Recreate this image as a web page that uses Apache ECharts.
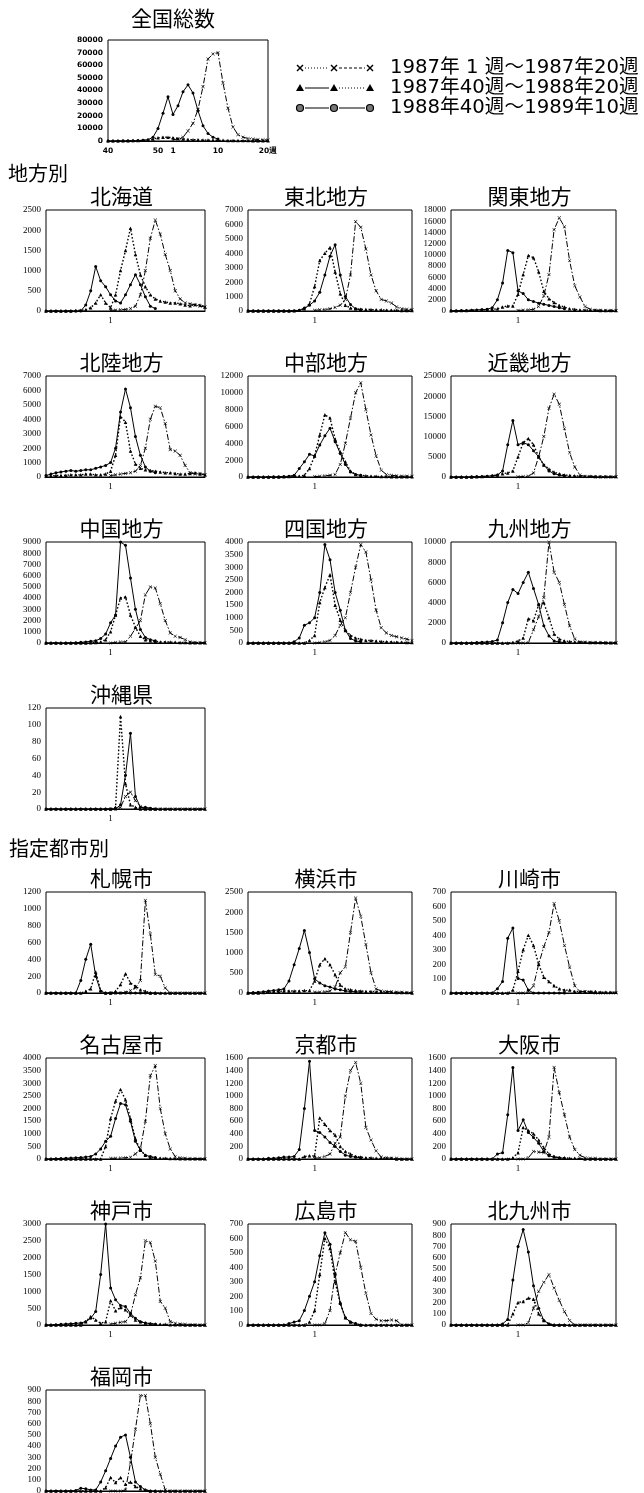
<!DOCTYPE html>
<html>
<head>
<meta charset="utf-8">
<script src="https://cdn.jsdelivr.net/npm/echarts@6/dist/echarts.min.js"></script>
<style>
  html, body { margin: 0; padding: 0; background: #fff; }
  #chart { width: 644px; height: 1493px; }
</style>
</head>
<body>
<div id="chart"></div>
<script>
// Weekly influenza case counts, three seasons per panel.
// x categories: week 40 .. 52, then week 1 .. 20
const weeks = [40,41,42,43,44,45,46,47,48,49,50,51,52,1,2,3,4,5,6,7,8,9,10,11,12,13,14,15,16,17,18,19,20];
const seasonNames = ['1987年 1 週〜1987年20週', '1987年40週〜1988年20週', '1988年40週〜1989年10週'];

// *_1987 : 1987 week 1-20 (20 values)
// *_8788 : 1987 week 40 - 1988 week 20 (33 values)
// *_8889 : 1988 week 40 - 1989 week 10 (23 values)
const nat_1987 = [1000,1500,3000,8000,14000,25000,43000,65000,69000,70000,46000,26000,11000,5000,3000,2000,1500,1200,1000,800];
const nat_8788 = [100,100,150,200,250,300,400,500,800,1500,2500,3000,3000,2500,2000,1500,1200,1000,900,800,700,600,500,500,400,400,300,300,300,200,200,200,200];
const nat_8889 = [0,0,0,100,100,200,300,500,1000,3000,10000,22000,35000,21000,28000,39000,44500,38000,24000,12000,6000,3000,1500];

const hok_1987 = [20,20,30,40,60,120,400,1000,1800,2250,1900,1400,1000,500,300,200,180,150,120,100];
const hok_8788 = [0,0,0,0,0,0,10,20,30,80,200,400,200,80,400,1000,1500,2050,1400,900,600,400,300,250,220,200,200,180,150,130,160,150,100];
const hok_8889 = [0,0,0,0,0,0,0,0,150,500,1100,750,600,400,250,200,400,650,900,650,350,120,60];

const toh_1987 = [50,80,100,150,250,400,800,2500,6200,5800,4300,2500,1400,800,700,550,280,150,120,100];
const toh_8788 = [0,0,0,0,0,0,0,0,0,20,50,150,500,1700,3500,4000,4400,2700,1200,400,200,150,120,100,100,80,80,60,60,50,40,40,30];
const toh_8889 = [20,20,20,20,20,20,20,20,20,20,50,200,400,700,1300,2500,3800,4600,2500,1000,450,150,80];

const kan_1987 = [100,150,200,300,800,2700,6500,14500,16600,15000,9000,4500,2500,800,300,150,120,100,100,80];
const kan_8788 = [50,50,80,100,120,150,200,250,300,400,700,900,900,3000,6500,9900,9500,7000,3500,2200,1500,1000,700,400,300,200,200,150,150,100,100,100,100];
const kan_8889 = [50,60,80,100,150,200,250,300,600,2000,5000,10800,10400,3600,3100,2000,1700,1400,1200,1000,800,600,400];

const hkr_1987 = [100,150,200,250,300,400,800,2000,4000,4900,4800,3700,1900,1800,1500,800,300,200,250,150];
const hkr_8788 = [50,80,100,100,120,150,150,150,200,200,150,150,200,400,1500,4200,3800,1800,900,600,500,450,400,350,300,300,250,200,200,250,300,200,150];
const hkr_8889 = [100,200,300,350,400,450,400,450,500,500,600,700,800,1000,2000,4500,6100,4800,2800,1500,700,400,300];

const chb_1987 = [50,80,150,200,300,1500,4000,7000,10000,11200,8000,5000,2500,800,300,200,150,100,100,80];
const chb_8788 = [0,0,0,0,0,0,10,20,50,80,100,200,1000,2500,5000,7400,7000,4500,3000,1800,700,300,200,150,100,80,60,50,40,30,30,20,20];
const chb_8889 = [0,0,0,0,10,20,30,50,100,200,1000,1800,2700,2500,3800,4900,5800,4200,2800,1500,600,300,200];

const kin_1987 = [50,100,200,1000,5000,10000,17000,20500,18000,12000,6000,2500,500,100,100,80,60,50,50,40];
const kin_8788 = [0,0,0,0,0,50,100,200,300,500,800,1000,1500,5000,8500,9500,8000,5000,3000,2000,1200,800,500,400,300,250,200,200,150,100,100,100,100];
const kin_8889 = [0,0,0,0,50,100,150,200,300,500,1500,8000,14000,8000,8500,8000,6500,5000,3000,1500,800,500,300];

const chg_1987 = [0,50,80,100,600,1300,2000,4300,5000,4900,3500,2000,900,600,500,300,100,50,50,30];
const chg_8788 = [0,0,0,0,0,0,0,0,0,20,50,100,300,1000,2500,4000,4100,2500,1400,600,300,200,150,100,100,80,60,50,40,30,30,20,20];
const chg_8889 = [0,0,0,0,0,0,30,60,100,150,200,400,800,1800,2500,9000,8700,5800,3000,1200,500,300,200];

const shk_1987 = [0,20,50,100,300,700,1000,2000,3000,3900,3600,2500,1300,600,400,300,250,200,150,100];
const shk_8788 = [0,0,0,0,0,0,0,0,0,0,0,0,100,300,1600,2200,2700,1500,900,500,300,200,150,100,100,80,60,50,40,30,30,20,20];
const shk_8889 = [0,0,0,0,0,0,0,0,0,50,200,700,800,1000,2000,3900,3300,2000,1300,500,180,80,50];

const kyu_1987 = [0,0,50,1300,2600,4500,10000,7000,6000,3800,1700,400,100,80,60,50,50,40,30,20];
const kyu_8788 = [0,0,0,0,0,0,0,0,0,0,0,0,50,200,500,2400,2200,3800,4000,2500,900,400,200,150,100,100,80,60,50,40,30,20,20];
const kyu_8889 = [0,0,0,0,0,50,80,100,150,300,2000,4000,5300,4900,6000,7000,5400,3800,1700,700,200,100,50];

const oki_1987 = [0,0,2,15,20,10,3,0,0,0,0,0,0,0,0,0,0,0,0,0];
const oki_8788 = [0,0,0,0,0,0,0,0,0,0,0,0,0,0,2,110,30,5,2,0,0,0,0,0,0,0,0,0,0,0,0,0,0];
const oki_8889 = [0,0,0,0,0,0,0,0,0,0,0,0,0,0,0,5,40,90,15,2,2,1,0];

const sap_1987 = [0,0,0,10,30,60,150,1100,700,220,200,60,0,0,0,0,0,0,0,0];
const sap_8788 = [0,0,0,0,0,0,0,0,20,50,250,30,0,0,20,100,230,120,80,40,20,0,0,0,0,0,0,0,0,0,0,0,0];
const sap_8889 = [0,0,0,0,0,0,0,150,400,580,200,20,0,0,0,0,0,0,0,0,0,0,0];

const yok_1987 = [20,20,30,50,150,500,650,1500,2350,1900,1200,500,100,50,40,30,20,20,10,10];
const yok_8788 = [0,0,0,10,20,30,40,50,50,50,50,60,60,300,700,850,700,450,200,100,80,60,50,40,40,30,30,20,20,10,10,10,0];
const yok_8889 = [0,10,20,30,50,60,80,100,300,700,1100,1550,1000,350,250,180,150,100,80,50,40,30,20];

const kaw_1987 = [0,0,10,50,200,320,420,620,500,330,180,50,10,10,5,0,0,0,0,0];
const kaw_8788 = [0,0,0,0,0,0,0,0,0,0,0,0,20,150,300,400,330,200,110,80,50,30,20,20,10,10,10,10,10,5,5,5,5];
const kaw_8889 = [0,0,0,0,0,0,0,0,0,30,80,380,450,100,90,20,0,0,0,0,0,0,0];

const nag_1987 = [30,30,40,50,70,200,400,1500,3300,3700,2000,1000,400,100,50,30,20,20,10,10];
const nag_8788 = [0,0,0,0,0,0,0,0,0,0,0,0,500,1600,2300,2750,2350,1600,800,350,150,60,40,30,30,20,20,10,10,10,10,10,10];
const nag_8889 = [0,0,10,20,30,40,50,60,80,100,200,400,700,900,1600,2200,2150,1500,700,350,150,100,60];

const kyo_1987 = [10,20,40,80,250,350,1000,1400,1530,1200,500,300,130,30,20,10,10,0,0,0];
const kyo_8788 = [0,0,0,0,0,0,0,0,0,0,0,40,50,50,650,550,450,380,200,120,80,40,30,20,20,10,10,10,10,0,0,0,0];
const kyo_8889 = [0,0,0,0,10,10,20,30,30,40,150,800,1550,450,420,350,260,200,120,60,40,30,20];

const osa_1987 = [0,0,20,120,110,100,350,1450,1050,700,350,150,60,20,10,10,0,0,0,0];
const osa_8788 = [0,0,0,0,0,0,0,0,0,0,0,0,20,100,500,450,400,300,180,80,40,20,20,10,10,10,0,0,0,0,0,0,0];
const osa_8889 = [0,0,0,0,0,0,0,0,0,80,100,700,1450,450,620,420,340,250,120,50,30,20,10];

const kob_1987 = [30,50,80,100,300,900,1400,2500,2450,1900,700,500,100,50,30,20,10,10,0,0];
const kob_8788 = [0,0,0,0,0,0,0,0,100,250,150,50,100,720,420,520,450,300,150,100,60,40,30,20,20,10,10,10,0,0,0,0,0];
const kob_8889 = [0,0,10,20,30,40,50,60,100,200,400,1500,3000,1100,750,580,550,350,200,100,60,40,20];

const hir_1987 = [0,0,10,100,350,500,640,590,580,400,220,80,40,30,30,35,30,0,0,0];
const hir_8788 = [0,0,0,0,0,0,0,0,0,0,0,0,20,100,350,600,530,300,150,50,20,10,0,0,0,0,0,0,0,0,0,0,0];
const hir_8889 = [0,0,0,0,0,0,0,0,10,20,30,100,200,300,480,640,560,350,150,50,20,10,0];

const kit_1987 = [0,0,20,150,300,380,450,330,220,120,40,0,0,0,0,0,0,0,0,0];
const kit_8788 = [0,0,0,0,0,0,0,0,0,0,0,0,100,200,210,240,230,100,40,10,0,0,0,0,0,0,0,0,0,0,0,0,0];
const kit_8889 = [0,0,0,0,0,0,0,0,0,0,10,50,400,700,850,650,350,150,40,10,0,0,0];

const fuk_1987 = [0,0,0,10,250,550,850,850,600,300,150,10,0,0,0,0,0,0,0,0];
const fuk_8788 = [0,0,0,0,0,0,0,0,0,0,0,0,30,120,75,120,60,80,40,20,10,0,0,0,0,0,0,0,0,0,0,0,0];
const fuk_8889 = [0,0,0,0,0,0,5,25,20,10,10,80,180,290,400,480,500,300,80,40,10,0,0];

// panel list: title, y-axis top and tick step, three seasons
const panels = [
  { title: '全国総数', max: 80000, step: 10000, d: [nat_1987, nat_8788, nat_8889] },
  { title: '北海道',   max: 2500,  step: 500,   d: [hok_1987, hok_8788, hok_8889] },
  { title: '東北地方', max: 7000,  step: 1000,  d: [toh_1987, toh_8788, toh_8889] },
  { title: '関東地方', max: 18000, step: 2000,  d: [kan_1987, kan_8788, kan_8889] },
  { title: '北陸地方', max: 7000,  step: 1000,  d: [hkr_1987, hkr_8788, hkr_8889] },
  { title: '中部地方', max: 12000, step: 2000,  d: [chb_1987, chb_8788, chb_8889] },
  { title: '近畿地方', max: 25000, step: 5000,  d: [kin_1987, kin_8788, kin_8889] },
  { title: '中国地方', max: 9000,  step: 1000,  d: [chg_1987, chg_8788, chg_8889] },
  { title: '四国地方', max: 4000,  step: 500,   d: [shk_1987, shk_8788, shk_8889] },
  { title: '九州地方', max: 10000, step: 2000,  d: [kyu_1987, kyu_8788, kyu_8889] },
  { title: '沖縄県',   max: 120,   step: 20,    d: [oki_1987, oki_8788, oki_8889] },
  { title: '札幌市',   max: 1200,  step: 200,   d: [sap_1987, sap_8788, sap_8889] },
  { title: '横浜市',   max: 2500,  step: 500,   d: [yok_1987, yok_8788, yok_8889] },
  { title: '川崎市',   max: 700,   step: 100,   d: [kaw_1987, kaw_8788, kaw_8889] },
  { title: '名古屋市', max: 4000,  step: 500,   d: [nag_1987, nag_8788, nag_8889] },
  { title: '京都市',   max: 1600,  step: 200,   d: [kyo_1987, kyo_8788, kyo_8889] },
  { title: '大阪市',   max: 1600,  step: 200,   d: [osa_1987, osa_8788, osa_8889] },
  { title: '神戸市',   max: 3000,  step: 500,   d: [kob_1987, kob_8788, kob_8889] },
  { title: '広島市',   max: 700,   step: 100,   d: [hir_1987, hir_8788, hir_8889] },
  { title: '北九州市', max: 900,   step: 100,   d: [kit_1987, kit_8788, kit_8889] },
  { title: '福岡市',   max: 900,   step: 100,   d: [fuk_1987, fuk_8788, fuk_8889] }
];

// ---- layout ----
const NAT_BOX = { left: 108, top: 40, width: 160, height: 101 };
const COLS = [ { left: 46, width: 159 }, { left: 248, width: 164 }, { left: 451, width: 165 } ];
const ROW_TOPS = [210, 376, 542, 708, 892, 1058, 1224, 1390];
const PANEL_H = 101;
// [row, col] of each small panel, in panel order after the national one
const CELLS = [[0,0],[0,1],[0,2],[1,0],[1,1],[1,2],[2,0],[2,1],[2,2],[3,0],
               [4,0],[4,1],[4,2],[5,0],[5,1],[5,2],[6,0],[6,1],[6,2],[7,0]];

const JP = 'Noto Sans CJK JP';
const KEY_FONT = '"DejaVu Sans", "Noto Sans CJK JP"';
const NUM = 'Liberation Sans Narrow';
const CROSS = 'path://M1,0L5,4L9,0L10,1L6,5L10,9L9,10L5,6L1,10L0,9L4,5L0,1Z';

const SEASON_STYLE = [
  { symbol: CROSS,      size: 3.5, line: { type: [6, 2, 1.5, 2], width: 1 } },
  { symbol: 'triangle', size: 3.5, line: { type: [1.6, 2],       width: 1.4 } },
  { symbol: 'circle',   size: 3,   line: { type: 'solid',        width: 1 } }
];

const natXLabels = { 0: '40', 10: '50', 13: '1', 22: '10', 32: '20週' };

const grids = [], xAxes = [], yAxes = [], series = [], graphics = [];

panels.forEach((p, i) => {
  let box;
  if (i === 0) {
    box = NAT_BOX;
  } else {
    const [r, c] = CELLS[i - 1];
    box = { left: COLS[c].left, top: ROW_TOPS[r], width: COLS[c].width, height: PANEL_H };
  }
  const nat = i === 0;
  grids.push({
    left: box.left, top: box.top, width: box.width, height: box.height,
    show: true, borderColor: '#000', borderWidth: 1, backgroundColor: 'transparent',
    containLabel: false, outerBoundsMode: 'none'
  });
  xAxes.push({
    gridIndex: i, type: 'category', data: weeks, boundaryGap: false,
    axisLine: { show: true, lineStyle: { color: '#000', width: 1 } },
    axisTick: { show: false },
    splitLine: { show: false },
    axisLabel: {
      interval: 0, margin: nat ? 6 : 5, color: '#000',
      fontFamily: nat ? 'DejaVu Sans' : NUM,
      fontWeight: nat ? 'bold' : 'normal',
      fontSize: nat ? 7.5 : 9,
      formatter: (v, idx) => nat ? (natXLabels[idx] || '') : (idx === 13 ? '1' : '')
    }
  });
  yAxes.push({
    gridIndex: i, type: 'value', min: 0, max: p.max, interval: p.step,
    axisLine: { show: false }, axisTick: { show: false }, splitLine: { show: false },
    axisLabel: {
      margin: 5, color: '#000',
      fontFamily: nat ? 'DejaVu Sans' : NUM,
      fontWeight: nat ? 'bold' : 'normal',
      fontSize: nat ? 7.5 : 9,
      formatter: v => String(v)
    }
  });

  const full = [
    new Array(13).fill(null).concat(p.d[0]),
    p.d[1].slice(),
    p.d[2].concat(new Array(10).fill(null))
  ];
  full.forEach((arr, k) => {
    const st = SEASON_STYLE[k];
    series.push({
      type: 'line', name: seasonNames[k], xAxisIndex: i, yAxisIndex: i, data: arr,
      symbol: st.symbol, symbolSize: st.size, showSymbol: true, showAllSymbol: true,
      connectNulls: false, silent: true, animation: false,
      itemStyle: { color: '#000' },
      lineStyle: { color: '#000', width: st.line.width, type: st.line.type }
    });
  });

  // panel heading
  graphics.push({
    type: 'text',
    x: nat ? 173 : box.left + box.width / 2 - 4,
    y: nat ? 18 : box.top - 14,
    style: { text: p.title, fontSize: 21, fontFamily: JP, fill: '#000', align: 'center', verticalAlign: 'middle' }
  });
});

// section headings
graphics.push({ type: 'text', x: 8, y: 173,
  style: { text: '地方別', fontSize: 20, fontFamily: JP, fill: '#000', align: 'left', verticalAlign: 'middle' } });
graphics.push({ type: 'text', x: 9, y: 848,
  style: { text: '指定都市別', fontSize: 20, fontFamily: JP, fill: '#000', align: 'left', verticalAlign: 'middle' } });

// season key
const KEY_ROWS = [68, 88, 108];
const KEY_X = [300, 334, 370];
const KEY_DASH = [ [[1, 2], [3, 2]], [null, [1, 2]], [null, null] ];
KEY_ROWS.forEach((y, k) => {
  for (let s = 0; s < 2; s++) {
    const dash = KEY_DASH[k][s];
    graphics.push({ type: 'line', shape: { x1: KEY_X[s] + 5, y1: y, x2: KEY_X[s + 1] - 5, y2: y },
      style: { stroke: '#000', lineWidth: 1, lineDash: dash || null } });
  }
  KEY_X.forEach(x => {
    if (k === 0) {
      graphics.push({ type: 'line', shape: { x1: x - 3, y1: y - 3, x2: x + 3, y2: y + 3 }, style: { stroke: '#000', lineWidth: 1.4 } });
      graphics.push({ type: 'line', shape: { x1: x - 3, y1: y + 3, x2: x + 3, y2: y - 3 }, style: { stroke: '#000', lineWidth: 1.4 } });
    } else if (k === 1) {
      graphics.push({ type: 'polygon', shape: { points: [[x, y - 4], [x + 4, y + 3], [x - 4, y + 3]] }, style: { fill: '#000' } });
    } else {
      graphics.push({ type: 'circle', shape: { cx: x, cy: y, r: 3.5 }, style: { fill: '#777', stroke: '#000', lineWidth: 1.2 } });
    }
  });
  graphics.push({ type: 'text', x: 390, y: y,
    style: { text: seasonNames[k], fontSize: 19.7, fontFamily: KEY_FONT, fill: '#000', align: 'left', verticalAlign: 'middle' } });
});

const chart = echarts.init(document.getElementById('chart'), null, { renderer: 'canvas' });
chart.setOption({
  animation: false,
  backgroundColor: '#fff',
  grid: grids,
  xAxis: xAxes,
  yAxis: yAxes,
  series: series,
  graphic: graphics
});
</script>
</body>
</html>
